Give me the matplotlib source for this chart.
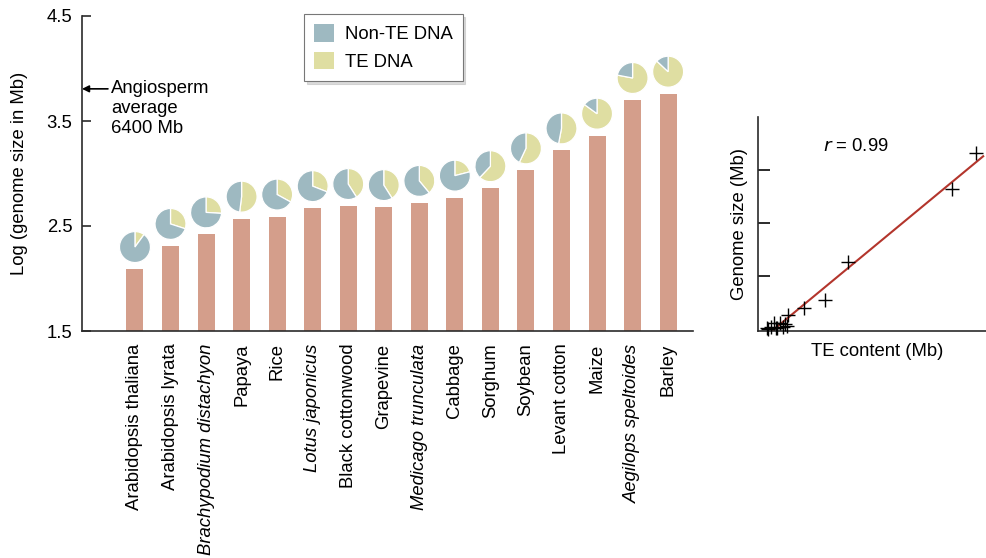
import matplotlib
matplotlib.use('Agg')
import numpy as np
import matplotlib.pyplot as plt
from matplotlib.patches import Wedge, Patch
from matplotlib.transforms import ScaledTranslation

plt.rcParams['font.family'] = ['Liberation Sans', 'DejaVu Sans']

# Plant genomes, smallest to largest
species = ['Arabidopsis thaliana', 'Arabidopsis lyrata', 'Brachypodium distachyon',
           'Papaya', 'Rice', 'Lotus japonicus', 'Black cottonwood', 'Grapevine',
           'Medicago trunculata', 'Cabbage', 'Sorghum', 'Soybean', 'Levant cotton',
           'Maize', 'Aegilops speltoides', 'Barley']
italic_names = ['Brachypodium distachyon', 'Lotus japonicus',
                'Medicago trunculata', 'Aegilops speltoides']
log_size = [2.09, 2.31, 2.42, 2.57, 2.59, 2.67, 2.69, 2.68,
            2.72, 2.77, 2.86, 3.03, 3.22, 3.36, 3.70, 3.76]
te_frac = [0.10, 0.30, 0.26, 0.52, 0.33, 0.31, 0.41, 0.41,
           0.39, 0.21, 0.62, 0.57, 0.53, 0.85, 0.78, 0.87]
angio_avg_mb = 6400

# TE content vs genome size (Mb)
te_mb = [254, 228, 333, 419, 472, 576, 647, 752, 707, 794, 506,
         1213, 1748, 2366, 5075, 5720]
genome_mb = [30, 40, 79, 253, 60, 230, 102, 110, 204, 531, 45,
             795, 1096, 2527, 5276, 6655]
r_value = 0.99

bar_color = '#d49e8b'
non_te_color = '#9eb9c1'
te_color = '#dfdea2'
spine_color = '#2b2b2b'
fs = 13.3

fig = plt.figure(figsize=(9.87, 5.58), dpi=100)
ax = fig.add_axes([82 / 987, 1 - 331 / 558, 611 / 987, 315 / 558])

x = np.arange(len(species))
ax.bar(x, np.array(log_size) - 1.5, bottom=1.5, width=0.48, color=bar_color)
ax.set_xlim(-1.49, 15.7)
ax.set_ylim(1.5, 4.5)

# pie of TE / non-TE share sitting above each bar
r_in = 0.155
gap_in = 0.22
for i, (h, f) in enumerate(zip(log_size, te_frac)):
    tr = fig.dpi_scale_trans + ScaledTranslation(i, h, ax.transData)
    ax.add_patch(Wedge((0, gap_in), r_in, 90 - 360 * f, 90, facecolor=te_color,
                       edgecolor='white', lw=0.9, transform=tr, clip_on=False))
    ax.add_patch(Wedge((0, gap_in), r_in, 90, 450 - 360 * f, facecolor=non_te_color,
                       edgecolor='white', lw=0.9, transform=tr, clip_on=False))

for side in ['top', 'right']:
    ax.spines[side].set_visible(False)
for side in ['left', 'bottom']:
    ax.spines[side].set_color(spine_color)
    ax.spines[side].set_linewidth(1.2)

ax.set_yticks([1.5, 2.5, 3.5, 4.5])
ax.set_yticklabels(['1.5', '2.5', '3.5', '4.5'], fontsize=fs)
ax.tick_params(axis='y', direction='in', length=6.5, width=1.2, pad=7, color=spine_color)
ax.set_xticks(x)
ax.set_xticklabels(species, rotation=90, fontsize=fs, va='top', ha='center')
ax.tick_params(axis='x', length=0, pad=9)
for lab in ax.get_xticklabels():
    if lab.get_text() in italic_names:
        lab.set_style('italic')

ax.set_ylabel('Log (genome size in Mb)', fontsize=fs)
ax.yaxis.set_label_coords(-0.088, 0.5)

# angiosperm average marker
avg_log = np.log10(angio_avg_mb)
ax.annotate('', xy=(-1.49, avg_log), xytext=(-0.76, avg_log),
            arrowprops=dict(arrowstyle='-|>', color='black', lw=1.2,
                            mutation_scale=10, shrinkA=0, shrinkB=0),
            annotation_clip=False)
ax.text(-0.67, avg_log + 0.08, 'Angiosperm\naverage\n%d Mb' % angio_avg_mb,
        fontsize=fs, va='top', ha='left', linespacing=1.22)

legend_handles = [Patch(facecolor=non_te_color, edgecolor='none'),
                  Patch(facecolor=te_color, edgecolor='none')]
leg = fig.legend(legend_handles, ['Non-TE DNA', 'TE DNA'], loc='upper left',
                 bbox_to_anchor=(304 / 987, 1 - 14 / 558), fontsize=fs,
                 frameon=True, fancybox=False, shadow={'color': '#b8b8b8'},
                 handlelength=1.1, handleheight=1.1, labelspacing=0.45,
                 handletextpad=0.55, borderpad=0.55, borderaxespad=0)
leg.get_frame().set_edgecolor('#777777')
leg.get_frame().set_linewidth(0.8)

# TE content vs genome size
ax2 = fig.add_axes([758 / 987, 1 - 331 / 558, 229 / 987, 214 / 558])
fit = np.polyfit(te_mb, genome_mb, 1)
xs = np.array([min(te_mb) + 60, 5900])
ax2.plot(xs, np.polyval(fit, xs), color='#b3352c', lw=1.5, zorder=2)
ax2.plot(te_mb, genome_mb, '+', color='black', ms=10, mew=1.0, zorder=3,
         clip_on=False)
ax2.set_xlim(0, 6000)
ax2.set_ylim(-60, 8000)
for side in ['top', 'right']:
    ax2.spines[side].set_visible(False)
for side in ['left', 'bottom']:
    ax2.spines[side].set_color(spine_color)
    ax2.spines[side].set_linewidth(1.2)
ax2.set_xticks([])
ax2.set_yticks([2000, 4000, 6000])
ax2.set_yticklabels([])
ax2.tick_params(axis='y', direction='in', length=8.5, width=1.4, color=spine_color)
ax2.set_ylabel('Genome size (Mb)', fontsize=fs)
ax2.yaxis.set_label_coords(-0.045, 0.5)
ax2.set_xlabel('TE content (Mb)', fontsize=fs)
ax2.xaxis.set_label_coords(0.52, -0.056)
ax2.text(0.284, 0.86, r'$\it{r}$ = %.2f' % r_value, transform=ax2.transAxes,
         fontsize=fs, va='center', ha='left')

fig.savefig('out.png', dpi=100)
